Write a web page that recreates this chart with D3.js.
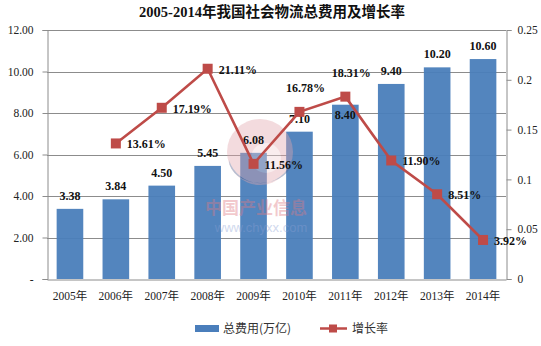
<!DOCTYPE html>
<html>
<head>
<meta charset="utf-8">
<script src="https://cdn.jsdelivr.net/npm/d3@7"></script>
<style>
  html, body { margin: 0; padding: 0; background: #fff; }
  svg { display: block; }
</style>
</head>
<body>
<script>
// Logistics cost (trillion yuan) and its yearly growth rate, 2005-2014
const years = ["2005年","2006年","2007年","2008年","2009年","2010年","2011年","2012年","2013年","2014年"];
const totalCost = [3.38, 3.84, 4.50, 5.45, 6.08, 7.10, 8.40, 9.40, 10.20, 10.60];
const growthRate = [null, 0.1361, 0.1719, 0.2111, 0.1156, 0.1678, 0.1831, 0.1190, 0.0851, 0.0392];
const leftTicks = [0, 2, 4, 6, 8, 10, 12];
const rightTicks = [0, 0.05, 0.1, 0.15, 0.2, 0.25];
const title = "2005-2014年我国社会物流总费用及增长率";
const seriesNames = ["总费用(万亿)", "增长率"];

const W = 541, H = 346;
const margin = { left: 47, right: 35, top: 30, bottom: 67 };
const barColor = "#4a7ebb";
const lineColor = "#be4b48";
const serif = "'Liberation Serif','Times New Roman','Noto Sans CJK SC',serif";

const svg = d3.select("body").append("svg").attr("width", W).attr("height", H);

const x = d3.scaleBand().domain(years).range([margin.left, W - margin.right]).paddingInner(0.42).paddingOuter(0.21);
const y = d3.scaleLinear().domain([0, 12]).range([H - margin.bottom, margin.top]);
const y2 = d3.scaleLinear().domain([0, 0.25]).range([H - margin.bottom, margin.top]);

// title
svg.append("text").attr("x", 272).attr("y", 17).attr("text-anchor", "middle")
  .attr("font-family", serif).attr("font-weight", "bold").attr("font-size", 14.5)
  .attr("fill", "#111").text(title);

// gridlines
svg.append("g").selectAll("line").data(leftTicks.filter(d => d > 0)).join("line")
  .attr("x1", margin.left).attr("x2", W - margin.right)
  .attr("y1", d => Math.round(y(d)) + 0.5).attr("y2", d => Math.round(y(d)) + 0.5)
  .attr("stroke", "#8c8c8c").attr("stroke-width", 1);

// left axis
const leftAxis = d3.axisLeft(y).tickValues(leftTicks).tickSize(5).tickPadding(9)
  .tickFormat(d => d === 0 ? "-" : d3.format(".2f")(d));
const gl = svg.append("g").attr("transform", `translate(${margin.left + 0.5},0)`).call(leftAxis);
gl.select(".domain").attr("stroke", "#8c8c8c");
gl.selectAll(".tick line").attr("stroke", "#8c8c8c");
gl.selectAll(".tick text").attr("font-family", serif).attr("font-size", 11.5).attr("fill", "#222");

// right axis
const rightAxis = d3.axisRight(y2).tickValues(rightTicks).tickSize(5).tickPadding(6)
  .tickFormat(d => String(+d.toFixed(2)));
const gr = svg.append("g").attr("transform", `translate(${W - margin.right + 0.5},0)`).call(rightAxis);
gr.select(".domain").attr("stroke", "#8c8c8c");
gr.selectAll(".tick line").attr("stroke", "#8c8c8c");
gr.selectAll(".tick text").attr("font-family", serif).attr("font-size", 11.5).attr("fill", "#222");

// bottom axis
const xAxis = d3.axisBottom(x).tickSize(0).tickPadding(12);
const gx = svg.append("g").attr("transform", `translate(0,${H - margin.bottom + 0.5})`).call(xAxis);
gx.select(".domain").attr("stroke", "#8c8c8c");
gx.selectAll(".tick text").attr("font-family", serif).attr("font-size", 11.5).attr("fill", "#222");

// bars
svg.append("g").selectAll("rect").data(years).join("rect")
  .attr("x", d => x(d)).attr("width", x.bandwidth())
  .attr("y", (d, i) => y(totalCost[i])).attr("height", (d, i) => y(0) - y(totalCost[i]))
  .attr("fill", barColor).attr("fill-opacity", 0.95);

// watermark logo, laid over the bars
const wm = svg.append("g").attr("opacity", 0.4);
wm.append("circle").attr("cx", 260).attr("cy", 152).attr("r", 33).attr("fill", "#e3a7ad");
wm.append("path").attr("d", "M229,160 A33,33 0 0,0 292,160 A30,22 0 0,1 229,160Z").attr("fill", "#4d5f8e");
wm.append("circle").attr("cx", 266).attr("cy", 158).attr("r", 15).attr("fill", "#ffffff").attr("opacity", 0.5);
wm.append("text").attr("x", 256).attr("y", 214).attr("text-anchor", "middle")
  .attr("font-family", "'Noto Sans CJK SC',sans-serif").attr("font-weight", "bold").attr("font-size", 17)
  .attr("fill", "#e07a84").text("中国产业信息");
wm.append("text").attr("x", 261).attr("y", 232).attr("text-anchor", "middle")
  .attr("font-family", "'Liberation Sans',Arial,sans-serif").attr("font-size", 13)
  .attr("fill", "#8aa0d4").text("www.chyxx.com");

// bar value labels (2011 sits just inside the bar top)
svg.append("g").selectAll("text").data(years).join("text")
  .attr("x", d => x(d) + x.bandwidth() / 2)
  .attr("y", (d, i) => i === 6 ? y(totalCost[i]) + 14 : y(totalCost[i]) - 9)
  .attr("text-anchor", "middle").attr("font-family", serif).attr("font-weight", "bold")
  .attr("font-size", 12).attr("fill", "#111")
  .text((d, i) => totalCost[i].toFixed(2));

// growth line
const pts = years.map((d, i) => ({ year: d, v: growthRate[i] })).filter(p => p.v != null);
const line = d3.line().x(p => x(p.year) + x.bandwidth() / 2).y(p => y2(p.v));
svg.append("path").datum(pts).attr("d", line).attr("fill", "none")
  .attr("stroke", lineColor).attr("stroke-width", 2.6);
svg.append("g").selectAll("rect").data(pts).join("rect")
  .attr("x", p => x(p.year) + x.bandwidth() / 2 - 5).attr("y", p => y2(p.v) - 5)
  .attr("width", 10).attr("height", 10).attr("fill", lineColor);

// growth labels: right of the marker, or above it for 2010/2011
const aboveYears = new Set(["2010年", "2011年"]);
svg.append("g").selectAll("text").data(pts).join("text")
  .attr("x", p => aboveYears.has(p.year) ? x(p.year) + x.bandwidth() / 2 + 6 : x(p.year) + x.bandwidth() / 2 + 11)
  .attr("y", p => aboveYears.has(p.year) ? y2(p.v) - 20 : y2(p.v) + 5)
  .attr("text-anchor", p => aboveYears.has(p.year) ? "middle" : "start")
  .attr("font-family", serif).attr("font-weight", "bold").attr("font-size", 12).attr("fill", "#111")
  .text(p => (p.v * 100).toFixed(2) + "%");

// legend
const lg = svg.append("g").attr("font-family", "'Noto Sans CJK SC',sans-serif").attr("font-size", 12).attr("fill", "#333");
lg.append("rect").attr("x", 195).attr("y", 325).attr("width", 24).attr("height", 7).attr("fill", barColor);
lg.append("text").attr("x", 223).attr("y", 333).text(seriesNames[0]);
lg.append("line").attr("x1", 320).attr("x2", 347).attr("y1", 328.5).attr("y2", 328.5).attr("stroke", lineColor).attr("stroke-width", 2.5);
lg.append("rect").attr("x", 329).attr("y", 324.5).attr("width", 8).attr("height", 8).attr("fill", lineColor);
lg.append("text").attr("x", 352).attr("y", 333).text(seriesNames[1]);
</script>
</body>
</html>
